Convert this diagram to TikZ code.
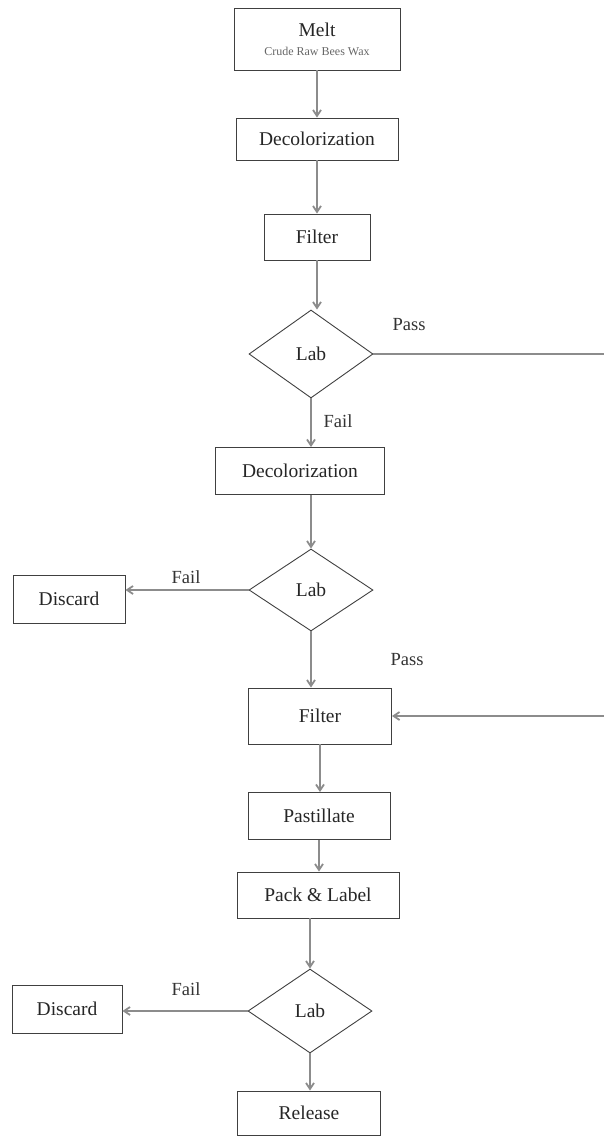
\documentclass[tikz,border=0pt]{standalone}
\usepackage{fontspec}
\setmainfont{Liberation Serif}
\usetikzlibrary{shapes.geometric,arrows.meta}
\begin{document}
\begin{tikzpicture}[x=1pt,y=-1pt,
  box/.style={draw=black!75,line width=0.9pt,rectangle,inner sep=0pt,text=black!85,font=\fontsize{19.5}{22}\selectfont},
  dia/.style={draw=black!75,line width=0.9pt,diamond,inner sep=0pt,minimum width=124pt,minimum height=88pt,text=black!85,font=\fontsize{19.5}{22}\selectfont},
  flow/.style={draw=black!45,line width=1.8pt,-{Straight Barb[length=6pt,width=8pt]}},
  lbl/.style={font=\fontsize{18.5}{21}\selectfont,text=black!80}]
\useasboundingbox (0,0) rectangle (603,1138);
\node[box,minimum width=166pt,minimum height=62pt] (melt) at (317,39) {};
\node[font=\fontsize{19.5}{22}\selectfont,text=black!85] (melttitle) at (317,30) {Melt};
\node[font=\fontsize{12}{14}\selectfont,text=black!60] (meltsub) at (317,51) {Crude Raw Bees Wax};
\node[box,minimum width=162pt,minimum height=42pt] (dec1) at (317,139) {Decolorization};
\node[box,minimum width=106pt,minimum height=46pt] (fil1) at (317,237) {Filter};
\node[dia] (lab1) at (311,354) {Lab};
\node[box,minimum width=169pt,minimum height=47pt] (dec2) at (300,471) {Decolorization};
\node[dia,minimum height=82pt] (lab2) at (311,590) {Lab};
\node[box,minimum width=112pt,minimum height=48pt] (dis1) at (69,599) {Discard};
\node[box,minimum width=143pt,minimum height=56pt] (fil2) at (320,716) {Filter};
\node[box,minimum width=142pt,minimum height=47pt] (past) at (319,816) {Pastillate};
\node[box,minimum width=162pt,minimum height=46pt] (pack) at (318,895) {Pack \& Label};
\node[dia,minimum height=84pt] (lab3) at (310,1011) {Lab};
\node[box,minimum width=110pt,minimum height=48pt] (dis2) at (67,1009) {Discard};
\node[box,minimum width=143pt,minimum height=44pt] (rel) at (309,1113) {Release};
\coordinate (rt) at (604.5,354);
\coordinate (rb) at (604.5,716);
\draw[flow] (melt.south) -- (melt.south |- dec1.north);
\draw[flow] (dec1.south) -- (dec1.south |- fil1.north);
\draw[flow] (fil1.south) -- (fil1.south |- lab1.north);
\draw[flow] (lab1.south) -- (lab1.south |- dec2.north);
\draw[flow] (dec2.south -| lab2.north) -- (lab2.north);
\draw[flow] (lab2.south) -- (lab2.south |- fil2.north);
\draw[flow] (fil2.south) -- (fil2.south |- past.north);
\draw[flow] (past.south) -- (past.south |- pack.north);
\draw[flow] (pack.south -| lab3.north) -- (lab3.north);
\draw[flow] (lab3.south) -- (lab3.south |- rel.north);
\draw[flow] (lab2.west) -- (lab2.west -| dis1.east);
\draw[flow] (lab3.west) -- (lab3.west -| dis2.east);
\draw[draw=black!45,line width=1.8pt] (lab1.east) -- (rt) -- (rb);
\draw[flow] (rb) -- (fil2.east);
\node[lbl] (pass1) at (409,325) {Pass};
\node[lbl] (fail1) at (338,421) {Fail};
\node[lbl] (fail2) at (186,577) {Fail};
\node[lbl] (pass2) at (407,660) {Pass};
\node[lbl] (fail3) at (186,989) {Fail};
\end{tikzpicture}
\end{document}
